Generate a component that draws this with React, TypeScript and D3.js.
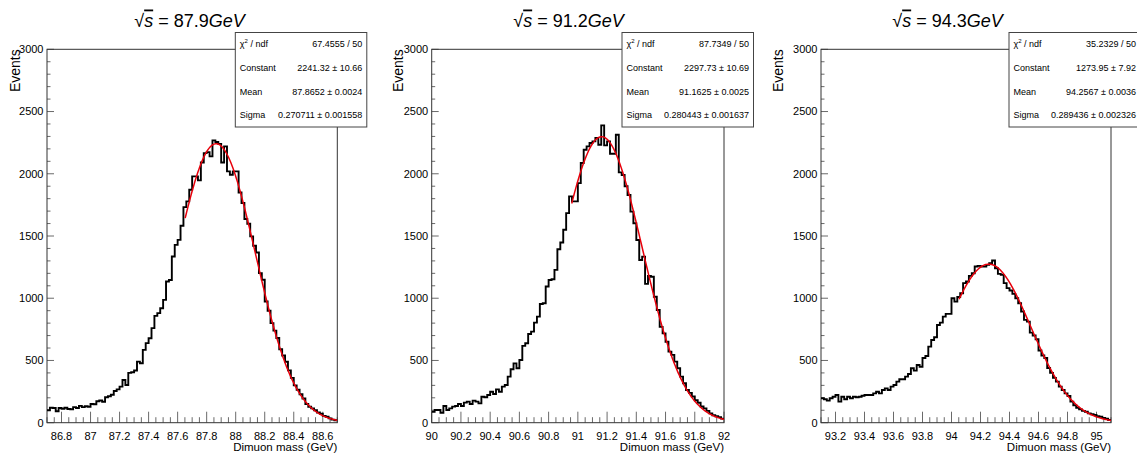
import React from "react";
import * as d3 from "d3";

// ---------- data ----------
const energies = ["87.9", "91.2", "94.3"];
const xDomains: [number, number][] = [
  [86.7, 88.7],
  [90, 92],
  [93.1, 95.1],
];

// 100 bins per histogram (bin width 0.02 GeV)
const counts879 = [
  100, 120, 118, 92, 118, 112, 120, 110, 108, 125,
  118, 135, 125, 132, 128, 150, 148, 172, 178, 168,
  205, 212, 225, 255, 268, 290, 343, 303, 400, 405,
  419, 491, 478, 585, 639, 679, 760, 858, 880, 920,
  987, 1134, 1147, 1335, 1429, 1469, 1582, 1732, 1778, 1872,
  1979, 1979, 1947, 2091, 2166, 2174, 2140, 2268, 2255, 2240,
  2091, 2220, 2019, 1992, 2019, 2019, 1850, 1765, 1636, 1598,
  1497, 1422, 1368, 1202, 1148, 974, 900, 800, 740, 680,
  590, 540, 490, 420, 360, 300, 265, 228, 195, 150,
  128, 115, 100, 82, 72, 55, 48, 35, 25, 20,
];
const counts912 = [
  88, 102, 102, 80, 134, 102, 115, 129, 134, 150,
  134, 161, 169, 150, 177, 169, 155, 209, 205, 223,
  249, 230, 268, 249, 290, 303, 370, 429, 477, 437,
  504, 617, 638, 713, 732, 804, 852, 954, 960, 1094,
  1147, 1153, 1228, 1394, 1448, 1550, 1684, 1818, 1778, 1778,
  1925, 2086, 2193, 2220, 2247, 2260, 2287, 2233, 2389, 2228,
  2260, 2161, 2161, 2314, 2011, 1990, 1900, 1830, 1696, 1602,
  1468, 1307, 1334, 1115, 1180, 1173, 1012, 905, 770, 718,
  650, 571, 545, 491, 437, 370, 317, 263, 240, 210,
  180, 160, 130, 115, 95, 75, 60, 52, 45, 33,
];
const counts943 = [
  196, 188, 177, 196, 209, 223, 169, 209, 188, 209,
  196, 209, 205, 209, 217, 223, 223, 223, 236, 249,
  236, 263, 276, 263, 290, 303, 330, 349, 349, 370,
  391, 437, 418, 464, 450, 520, 536, 611, 665, 686,
  785, 804, 852, 874, 874, 1000, 973, 1010, 1040, 1121,
  1134, 1180, 1201, 1255, 1260, 1255, 1255, 1268, 1282, 1303,
  1241, 1196, 1188, 1121, 1081, 1062, 1035, 1000, 960, 893,
  826, 812, 724, 700, 670, 580, 540, 520, 440, 400,
  360, 330, 290, 263, 236, 214, 169, 140, 120, 107,
  95, 88, 75, 68, 62, 52, 48, 38, 32, 22,
];
const histograms = [counts879, counts912, counts943];

// Gaussian fit results (as printed in the stats boxes)
const fitConstant = [2241.32, 2297.73, 1273.95];
const fitMean = [87.8652, 91.1625, 94.2567];
const fitSigma = [0.270711, 0.280443, 0.289436];
const fitStart = [87.652, 90.958, 94.052];

const chi2Labels = ["67.4555 / 50", "87.7349 / 50", "35.2329 / 50"];
const constantLabels = ["2241.32 \u00b1 10.66", "2297.73 \u00b1 10.69", "1273.95 \u00b1 7.92"];
const meanLabels = ["87.8652 \u00b1 0.0024", "91.1625 \u00b1 0.0025", "94.2567 \u00b1 0.0036"];
const sigmaLabels = ["0.270711 \u00b1 0.001558", "0.280443 \u00b1 0.001637", "0.289436 \u00b1 0.002326"];

const yTickLabels = ["0", "500", "1000", "1500", "2000", "2500", "3000"];
const xTickLabels = [
  ["86.8", "87", "87.2", "87.4", "87.6", "87.8", "88", "88.2", "88.4", "88.6"],
  ["90", "90.2", "90.4", "90.6", "90.8", "91", "91.2", "91.4", "91.6", "91.8", "92"],
  ["93.2", "93.4", "93.6", "93.8", "94", "94.2", "94.4", "94.6", "94.8", "95"],
];
const xTitle = "Dimuon mass (GeV)";
const yTitle = "Events";

// ---------- layout ----------
const W = 1137;
const H = 455;
const FONT = "'Liberation Sans', Arial, Helvetica, sans-serif";
const frames = [
  { left: 47, right: 337.3 },
  { left: 431.7, right: 724 },
  { left: 821, right: 1111 },
];
const padCenters = [189.5, 568.5, 947.5];
const yTitleX = [15, 398, 778];
const TOP = 49.3;
const BOTTOM = 422.7;
const Y_MAX = 3000;

function Panel({ idx }: { idx: number }) {
  const fr = frames[idx];
  const [x0, x1] = xDomains[idx];
  const x = d3.scaleLinear().domain([x0, x1]).range([fr.left, fr.right]);
  const y = d3.scaleLinear().domain([0, Y_MAX]).range([BOTTOM, TOP]);
  const counts = histograms[idx];
  const bw = (x1 - x0) / counts.length;

  const pts: [number, number][] = counts.map((c, i) => [x0 + i * bw, c]);
  pts.push([x1, counts[counts.length - 1]]);
  const histPath =
    d3
      .line<[number, number]>()
      .x((d) => x(d[0]))
      .y((d) => y(d[1]))
      .curve(d3.curveStepAfter)(pts) || "";

  const gauss = (v: number) =>
    fitConstant[idx] * Math.exp(-0.5 * Math.pow((v - fitMean[idx]) / fitSigma[idx], 2));
  const nS = 200;
  const fitPts: [number, number][] = d3
    .range(nS + 1)
    .map((k) => {
      const v = fitStart[idx] + ((x1 - fitStart[idx]) * k) / nS;
      return [v, gauss(v)] as [number, number];
    });
  const fitPath =
    d3
      .line<[number, number]>()
      .x((d) => x(d[0]))
      .y((d) => y(d[1]))(fitPts) || "";

  // ticks
  const yMinor = d3.range(0, Y_MAX + 1, 100);
  const xk0 = Math.ceil(x0 * 20 - 1e-6);
  const xk1 = Math.floor(x1 * 20 + 1e-6);
  const xTicks = d3.range(xk0, xk1 + 1).map((k) => ({ v: k / 20, major: k % 4 === 0 }));

  const boxRight = fr.right + 29.5;
  const boxLeft = boxRight - 131.5;
  const boxTop = 32.5;
  const boxH = 94.5;
  const rowH = boxH / 4;
  const rows = [
    { label: "chi", value: chi2Labels[idx] },
    { label: "Constant", value: constantLabels[idx] },
    { label: "Mean", value: meanLabels[idx] },
    { label: "Sigma", value: sigmaLabels[idx] },
  ];

  const tickColor = "#6a6a6a";
  const clipId = `clip${idx}`;

  return (
    <g>
      <defs>
        <clipPath id={clipId}>
          <rect x={fr.left} y={TOP} width={fr.right - fr.left} height={BOTTOM - TOP} />
        </clipPath>
      </defs>
      {/* title */}
      <text
        x={padCenters[idx]}
        y={26.5}
        textAnchor="middle"
        fontFamily={FONT}
        fontSize={18}
        fill="#000"
      >
        <tspan>{"\u221a"}</tspan>
        <tspan fontStyle="italic" textDecoration="overline">s</tspan>
        <tspan>{` = ${energies[idx]}`}</tspan>
        <tspan fontStyle="italic">GeV</tspan>
      </text>

      {/* y ticks */}
      {yMinor.map((v) => {
        const major = v % 500 === 0;
        return (
          <line
            key={`yt${v}`}
            x1={fr.left}
            x2={fr.left + (major ? 7 : 3.5)}
            y1={y(v)}
            y2={y(v)}
            stroke={tickColor}
            strokeWidth={1}
          />
        );
      })}
      {yTickLabels.map((t) => (
        <text
          key={`yl${t}`}
          x={fr.left - 3.5}
          y={y(+t)}
          dy="0.36em"
          textAnchor="end"
          fontFamily={FONT}
          fontSize={11}
          fill="#000"
        >
          {t}
        </text>
      ))}

      {/* x ticks */}
      {xTicks.map((t) => (
        <line
          key={`xt${t.v}`}
          x1={x(t.v)}
          x2={x(t.v)}
          y1={BOTTOM}
          y2={BOTTOM - (t.major ? 11 : 5.5)}
          stroke={tickColor}
          strokeWidth={1}
        />
      ))}
      {xTickLabels[idx].map((t) => (
        <text
          key={`xl${t}`}
          x={x(+t)}
          y={439.5}
          textAnchor="middle"
          fontFamily={FONT}
          fontSize={11}
          fill="#000"
        >
          {t}
        </text>
      ))}

      {/* frame */}
      <rect
        x={fr.left}
        y={TOP}
        width={fr.right - fr.left}
        height={BOTTOM - TOP}
        fill="none"
        stroke="#333"
        strokeWidth={1}
      />

      {/* histogram + fit */}
      <g clipPath={`url(#${clipId})`}>
        <path d={histPath} fill="none" stroke="#000" strokeWidth={1.9} strokeLinejoin="miter" />
        <path d={fitPath} fill="none" stroke="#e8000b" strokeWidth={1.5} />
      </g>

      {/* axis titles */}
      <text
        x={fr.right}
        y={451}
        textAnchor="end"
        fontFamily={FONT}
        fontSize={11.5}
        fill="#000"
      >
        {xTitle}
      </text>
      <text
        transform={`translate(${yTitleX[idx]},${TOP}) rotate(-90)`}
        textAnchor="end"
        dy="0.36em"
        fontFamily={FONT}
        fontSize={14}
        fill="#000"
      >
        {yTitle}
      </text>

      {/* stats box */}
      <rect
        x={boxLeft}
        y={boxTop}
        width={131.5}
        height={boxH}
        fill="#fff"
        stroke="#444"
        strokeWidth={1}
      />
      {rows.map((r, i) => (
        <g key={`row${i}`}>
          <text
            x={boxLeft + 4.5}
            y={boxTop + rowH * (i + 0.5)}
            dy="0.35em"
            fontFamily={FONT}
            fontSize={9}
            fill="#000"
          >
            {r.label === "chi" ? (
              <>
                <tspan>{"\u03c7"}</tspan>
                <tspan fontSize={6} dy={-4}>2</tspan>
                <tspan dy={4}>{" / ndf"}</tspan>
              </>
            ) : (
              r.label
            )}
          </text>
          <text
            x={boxRight - 4.5}
            y={boxTop + rowH * (i + 0.5)}
            dy="0.35em"
            textAnchor="end"
            fontFamily={FONT}
            fontSize={9}
            fill="#000"
          >
            {r.value}
          </text>
        </g>
      ))}
    </g>
  );
}

export default function App() {
  return (
    <svg
      width={W}
      height={H}
      viewBox={`0 0 ${W} ${H}`}
      style={{ position: "fixed", left: 0, top: 0, background: "#fff" }}
    >
      <rect x={0} y={0} width={W} height={H} fill="#fff" />
      {[0, 1, 2].map((i) => (
        <Panel key={i} idx={i} />
      ))}
    </svg>
  );
}
